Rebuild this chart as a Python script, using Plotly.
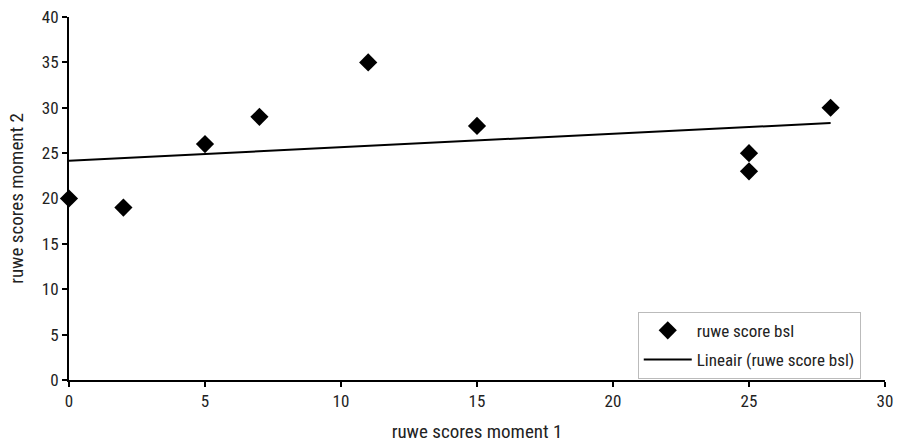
import numpy as np
import plotly.graph_objects as go

# raw scores per participant: moment 1 vs moment 2
moment1 = [0, 2, 5, 7, 11, 15, 25, 25, 28]
moment2 = [20, 19, 26, 29, 35, 28, 25, 23, 30]

x_ticks = [0, 5, 10, 15, 20, 25, 30]
y_ticks = [0, 5, 10, 15, 20, 25, 30, 35, 40]

FONT = "Roboto Condensed, Liberation Sans Narrow, sans-serif"
TXT = "#222222"

# linear trend through the points
slope, intercept = np.polyfit(moment1, moment2, 1)
trend_x = [min(moment1), max(moment1)]
trend_y = [intercept + slope * v for v in trend_x]

fig = go.Figure()
fig.add_trace(go.Scatter(
    x=moment1, y=moment2, mode="markers", name="ruwe score bsl",
    marker=dict(symbol="diamond", size=14, color="black"),
    cliponaxis=False, legendgroup="pts",
))
fig.add_trace(go.Scatter(
    x=trend_x, y=trend_y, mode="lines", name="Lineair (ruwe score bsl)",
    line=dict(color="black", width=2), legendgroup="trend",
))

axis_common = dict(
    showgrid=False, zeroline=False, showline=True, linecolor="black",
    linewidth=2, ticks="outside", ticklen=5, tickwidth=2, tickcolor="black",
    tickfont=dict(family=FONT, size=17, color=TXT), automargin=False,
)

fig.update_layout(
    width=898, height=445,
    margin=dict(l=69, r=13, t=17, b=65),
    paper_bgcolor="white", plot_bgcolor="white",
    font=dict(family=FONT, size=17, color=TXT),
    xaxis=dict(range=[0, 30], tickvals=x_ticks,
               title=dict(text="ruwe scores moment 1", standoff=14,
                          font=dict(family=FONT, size=19, color=TXT)),
               **axis_common),
    yaxis=dict(range=[0, 40], tickvals=y_ticks,
               title=dict(text="ruwe scores moment 2", standoff=13,
                          font=dict(family=FONT, size=19, color=TXT)),
               **axis_common),
    legend=dict(x=0.697, y=0.188, xanchor="left", yanchor="top",
                bordercolor="#bbbbbb", borderwidth=1, bgcolor="white",
                font=dict(family=FONT, size=17, color=TXT),
                itemwidth=48, tracegroupgap=4),
    showlegend=True,
)

fig.write_html("out.html")
